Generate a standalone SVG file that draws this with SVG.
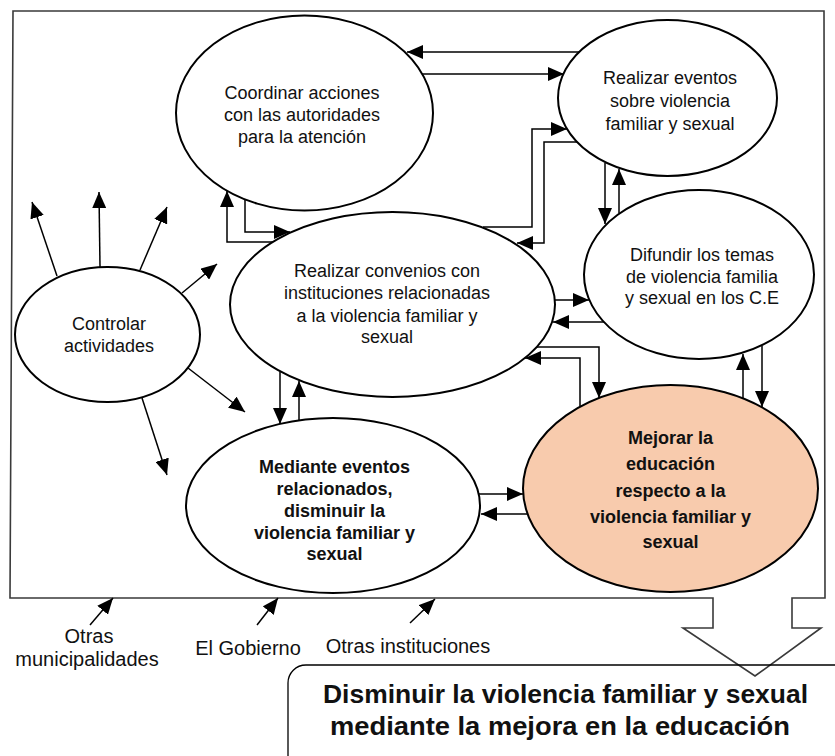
<svg xmlns="http://www.w3.org/2000/svg" width="835" height="756" viewBox="0 0 835 756">
<style>
.node{fill:#fff;stroke:#000;stroke-width:2}
.hl{fill:#F8CBAD;stroke:#000;stroke-width:2}
.t{font-family:"Liberation Sans",Arial,sans-serif;font-size:18px;fill:#111;text-anchor:middle}
.b{font-weight:bold}
.lab{font-family:"Liberation Sans",Arial,sans-serif;font-size:20px;fill:#111;text-anchor:middle}
.big{font-family:"Liberation Sans",Arial,sans-serif;font-size:26px;font-weight:bold;fill:#111;text-anchor:middle}
.c{fill:none;stroke:#000;stroke-width:1.5;marker-end:url(#ah)}
</style>
<defs>
<marker id="ah" markerUnits="userSpaceOnUse" markerWidth="16" markerHeight="14" refX="16" refY="7" orient="auto">
<path d="M0,0 L16,7 L0,14 Z" fill="#000"/>
</marker>
</defs>
<rect width="835" height="756" fill="#fff"/>
<g id="frame">
<path d="M13,11 L824,11 L825,598 L792,598 L792,628 L821,628 L755,676 L683,628 L713,628 L713,598 L10,598 Z" fill="none" stroke="#3a3a3a" stroke-width="1.6"/>
</g>
<g id="result">
<rect x="288" y="665" width="620" height="140" rx="18" fill="none" stroke="#000" stroke-width="1.3"/>
<text class="big" x="565.5" y="703" textLength="485" lengthAdjust="spacingAndGlyphs">Disminuir la violencia familiar y sexual</text>
<text class="big" x="560" y="735" textLength="460" lengthAdjust="spacingAndGlyphs">mediante la mejora en la educación</text>
</g>
<g id="coordinar">
<ellipse class="node" cx="304.5" cy="113" rx="128.5" ry="97.5"/>
<text class="t" x="302" y="99">Coordinar acciones</text>
<text class="t" x="302" y="121">con las autoridades</text>
<text class="t" x="302" y="143">para la atención</text>
</g>
<g id="eventos">
<ellipse class="node" cx="667.5" cy="98" rx="109.5" ry="78"/>
<text class="t" x="670" y="84">Realizar eventos</text>
<text class="t" x="670" y="107">sobre violencia</text>
<text class="t" x="670" y="130">familiar y sexual</text>
</g>
<g id="difundir">
<ellipse class="node" cx="699" cy="274.5" rx="115" ry="84.5"/>
<text class="t" x="702" y="261">Difundir los temas</text>
<text class="t" x="702" y="283">de violencia familia</text>
<text class="t" x="702" y="304">y sexual en los C.E</text>
</g>
<g id="convenios">
<ellipse class="node" cx="392.5" cy="304.5" rx="162.5" ry="92.5"/>
<text class="t" x="387" y="277">Realizar convenios con</text>
<text class="t" x="387" y="299">instituciones relacionadas</text>
<text class="t" x="387" y="322">a la violencia familiar y</text>
<text class="t" x="387" y="343">sexual</text>
</g>
<g id="controlar">
<ellipse class="node" cx="107.5" cy="334.5" rx="92.5" ry="67.5"/>
<text class="t" x="109" y="330">Controlar</text>
<text class="t" x="109" y="352">actividades</text>
</g>
<g id="mediante">
<ellipse class="node" cx="333" cy="505.5" rx="147" ry="87.5"/>
<text class="t b" x="334.5" y="473">Mediante eventos</text>
<text class="t b" x="334.5" y="495">relacionados,</text>
<text class="t b" x="334.5" y="517">disminuir la</text>
<text class="t b" x="334.5" y="539">violencia familiar y</text>
<text class="t b" x="334.5" y="560">sexual</text>
</g>
<g id="mejorar">
<ellipse class="hl" cx="670.5" cy="488.5" rx="147.5" ry="103.5"/>
<text class="t b" x="670.5" y="444">Mejorar la</text>
<text class="t b" x="670.5" y="470">educación</text>
<text class="t b" x="670.5" y="497">respecto a la</text>
<text class="t b" x="670.5" y="523">violencia familiar y</text>
<text class="t b" x="670.5" y="548">sexual</text>
</g>
<g id="labels">
<text class="lab" x="89" y="643">Otras</text>
<text class="lab" x="87" y="666">municipalidades</text>
<text class="lab" x="248" y="655">El Gobierno</text>
<text class="lab" x="408" y="653">Otras instituciones</text>
</g>
<g id="connectors">
<path class="c" d="M579,52 L407,52"/>
<path class="c" d="M422,74 L564,74"/>
<path class="c" d="M483,227 L532,227 L532,129 L567,129"/>
<path class="c" d="M577,142 L544,142 L544,243 L517,243"/>
<path class="c" d="M605,163 L605,224"/>
<path class="c" d="M619,213 L619,169"/>
<path class="c" d="M273,242 L227,242 L227,191"/>
<path class="c" d="M245,199 L245,232 L290,232"/>
<path class="c" d="M555,300 L589,300"/>
<path class="c" d="M604,322 L553,322"/>
<path class="c" d="M537,347 L599,347 L599,398"/>
<path class="c" d="M580,406 L580,358 L525,358"/>
<path class="c" d="M743,398 L743,354"/>
<path class="c" d="M762,346 L762,407"/>
<path class="c" d="M280,372 L280,424"/>
<path class="c" d="M299,420 L299,381"/>
<path class="c" d="M479,494 L523,494"/>
<path class="c" d="M527,514 L481,514"/>
<path class="c" d="M57,276 L32,202"/>
<path class="c" d="M100,267 L99,192"/>
<path class="c" d="M140,270 L167,207"/>
<path class="c" d="M182,293 L217,264"/>
<path class="c" d="M188,368 L245,412"/>
<path class="c" d="M142,398 L167,475"/>
<path class="c" d="M90,625 L113,598"/>
<path class="c" d="M257,625 L278,598"/>
<path class="c" d="M410,623 L435,599"/>
</g>
</svg>
